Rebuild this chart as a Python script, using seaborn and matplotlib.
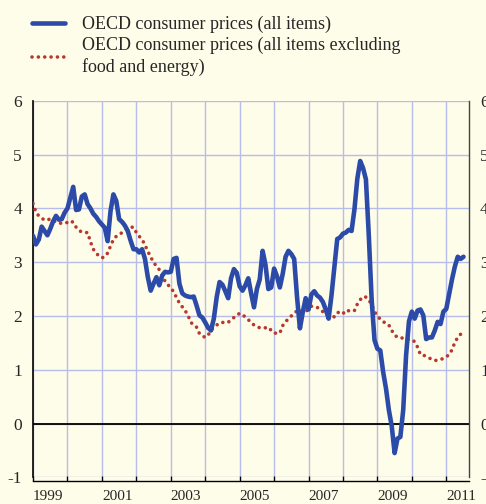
import numpy as np
import pandas as pd
import matplotlib
matplotlib.use("Agg")
import matplotlib.pyplot as plt
import seaborn as sns

# monthly year-on-year inflation, starting January 1999
all_items = [
    3.49, 3.33, 3.42, 3.66, 3.58, 3.50, 3.62, 3.76, 3.86, 3.79, 3.80, 3.92,
    4.00, 4.20, 4.40, 3.97, 3.98, 4.22, 4.26, 4.08, 4.00, 3.90, 3.84, 3.76,
    3.70, 3.64, 3.39, 3.95, 4.26, 4.14, 3.80, 3.75, 3.68, 3.58, 3.40, 3.24,
    3.24, 3.18, 3.24, 3.06, 2.72, 2.47, 2.60, 2.72, 2.57, 2.75, 2.82, 2.81,
    2.82, 3.06, 3.08, 2.60, 2.42, 2.38, 2.36, 2.35, 2.36, 2.19, 2.01, 1.97,
    1.88, 1.78, 1.73, 1.95, 2.35, 2.63, 2.58, 2.46, 2.33, 2.70, 2.87, 2.80,
    2.55, 2.47, 2.57, 2.70, 2.42, 2.16, 2.50, 2.68, 3.21, 2.95, 2.50, 2.53,
    2.88, 2.74, 2.53, 2.78, 3.10, 3.21, 3.15, 3.06, 2.35, 1.77, 2.07, 2.33,
    2.12, 2.40, 2.46, 2.38, 2.34, 2.26, 2.12, 1.95, 2.38, 2.90, 3.43, 3.46,
    3.53, 3.55, 3.60, 3.58, 3.98, 4.55, 4.88, 4.75, 4.54, 3.50, 2.30, 1.55,
    1.39, 1.36, 0.96, 0.65, 0.25, -0.05, -0.55, -0.28, -0.25, 0.25, 1.27, 1.90,
    2.08, 1.95, 2.10, 2.12, 2.01, 1.57, 1.60, 1.60, 1.73, 1.89, 1.85, 2.08,
    2.13, 2.40, 2.68, 2.92, 3.10, 3.06, 3.10,
]

core = [
    4.09, 3.93, 3.86, 3.82, 3.78, 3.79, 3.80, 3.78, 3.74, 3.73, 3.72, 3.72,
    3.74, 3.77, 3.74, 3.65, 3.59, 3.56, 3.55, 3.55, 3.38, 3.24, 3.17, 3.11,
    3.08, 3.10, 3.17, 3.30, 3.42, 3.48, 3.51, 3.55, 3.59, 3.62, 3.65, 3.65,
    3.55, 3.48, 3.42, 3.32, 3.20, 3.10, 2.99, 2.93, 2.86, 2.79, 2.64, 2.58,
    2.52, 2.45, 2.34, 2.24, 2.17, 2.10, 2.01, 1.88, 1.83, 1.79, 1.67, 1.63,
    1.60, 1.64, 1.74, 1.78, 1.83, 1.87, 1.88, 1.87, 1.88, 1.93, 1.97, 2.01,
    2.05, 2.02, 1.98, 1.93, 1.88, 1.83, 1.80, 1.78, 1.77, 1.78, 1.79, 1.73,
    1.68, 1.68, 1.68, 1.82, 1.89, 1.95, 2.00, 2.04, 2.10, 2.11, 2.08, 2.07,
    2.14, 2.18, 2.18, 2.16, 2.12, 2.08, 2.06, 2.04, 2.02, 1.98, 2.05, 2.09,
    2.06, 2.04, 2.10, 2.11, 2.10, 2.22, 2.30, 2.36, 2.35, 2.30, 2.21, 2.08,
    2.00, 1.94, 1.89, 1.87, 1.83, 1.73, 1.65, 1.60, 1.59, 1.59, 1.57, 1.56,
    1.56, 1.52, 1.42, 1.28, 1.27, 1.25, 1.22, 1.19, 1.17, 1.18, 1.19, 1.21,
    1.24, 1.28, 1.37, 1.51, 1.60, 1.66,
]

year_ticks = list(range(1999, 2012))
year_labels = [str(y) if y % 2 == 1 else "" for y in year_ticks]
y_ticks = list(range(-1, 7))

label_all = "OECD consumer prices (all items)"
label_core = "OECD consumer prices (all items excluding\nfood and energy)"

df_all = pd.DataFrame({"year": 1999 + np.arange(len(all_items)) / 12, "value": all_items})
df_core = pd.DataFrame({"year": 1999 + np.arange(len(core)) / 12, "value": core})

bg = "#FEFDE9"
sns.set_theme(style="white")
plt.rcParams["font.family"] = ["Liberation Serif", "DejaVu Serif"]

fig = plt.figure(figsize=(4.86, 5.04), dpi=100, facecolor=bg)
ax = fig.add_axes([0.068, 0.053, 0.897, 0.747])
ax.set_facecolor(bg)

sns.lineplot(data=df_core, x="year", y="value", ax=ax, color="#B8372F",
             linewidth=2.6, linestyle=(0, (0.01, 1.75)), dash_capstyle="round",
             label=label_core, zorder=3)
sns.lineplot(data=df_all, x="year", y="value", ax=ax, color="#2C4BA8",
             linewidth=3.3, label=label_all, zorder=4)

ax.axhline(0, color="black", linewidth=1.3, zorder=2)

ax.set_xlim(1999, 2011.66)
ax.set_ylim(-1, 6)
ax.set_xticks(year_ticks)
ax.set_xticklabels(year_labels, fontsize=12.5)
ax.set_yticks(y_ticks)
ax.set_yticklabels([str(v) for v in y_ticks], fontsize=12.5)
ax.set_xlabel("")
ax.set_ylabel("")

ax.grid(True, color="#B7BDEB", linewidth=1.0)
ax.set_axisbelow(True)

ax.spines["top"].set_visible(False)
ax.spines["left"].set_color("black")
ax.spines["left"].set_linewidth(1.2)
ax.spines["right"].set_color("#444444")
ax.spines["right"].set_linewidth(1.0)
ax.spines["bottom"].set_color("black")
ax.spines["bottom"].set_linewidth(1.0)
ax.spines["bottom"].set_position(("outward", 3))

ax.tick_params(axis="x", bottom=True, direction="in", length=3.5, width=1.0,
               color="black", pad=6)
ax.tick_params(axis="y", left=False, right=False, labelright=True, length=0, pad=8)
for lbl in ax.get_xticklabels():
    lbl.set_horizontalalignment("left")

handles, labels = ax.get_legend_handles_labels()
ax.get_legend().remove()
order = [labels.index(label_all), labels.index(label_core)]
leg = fig.legend([handles[i] for i in order], [labels[i] for i in order],
                 loc="upper left", bbox_to_anchor=(0.066, 0.968), frameon=False,
                 fontsize=13, handlelength=1.85, handletextpad=0.9, labelspacing=0.2,
                 borderpad=0, borderaxespad=0)
for txt in leg.get_texts():
    txt.set_linespacing(1.3)

fig.savefig("out.png", dpi=100, facecolor=bg)
